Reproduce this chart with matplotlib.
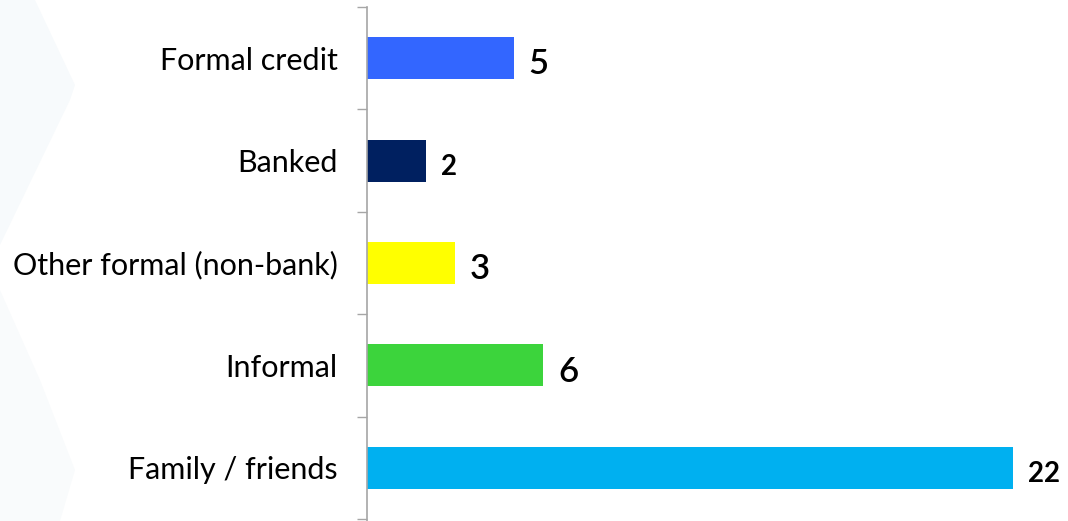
import matplotlib.pyplot as plt
from matplotlib.patches import Polygon

# funding sources, top to bottom
categories = ['Formal credit', 'Banked', 'Other formal (non-bank)', 'Informal', 'Family / friends']
values = [5, 2, 3, 6, 22]
bar_colors = ['#3366FF', '#002060', '#FFFF00', '#3CD43C', '#00B0F0']
# value label styling: (font size, weight)
label_styles = [(25, 'semibold'), (20, 'bold'), (25, 'semibold'), (25, 'semibold'), (20, 'bold')]

plt.rcParams['font.family'] = ['Lato', 'DejaVu Sans']

W, H = 1068, 521
fig = plt.figure(figsize=(W / 100, H / 100), dpi=100)
fig.patch.set_facecolor('white')

# faint background chevrons on the left
bg = fig.add_axes([0, 0, 1, 1], zorder=-1)
bg.set_xlim(0, W)
bg.set_ylim(H, 0)
bg.axis('off')
bg.add_patch(Polygon([(0, 0), (35, 0), (75, 85), (70, 100), (0, 245)],
                     closed=True, facecolor='#F7FAFC', edgecolor='none'))
bg.add_patch(Polygon([(0, 290), (40, 380), (75, 470), (60, 521), (0, 521)],
                     closed=True, facecolor='#F9FBFC', edgecolor='none'))

ax = fig.add_axes([367 / W, 0, 690 / W, 514 / H])
ax.patch.set_alpha(0)
y = list(range(len(categories)))
ax.barh(y, values, height=0.41, color=bar_colors, zorder=2)
ax.set_ylim(len(categories) - 0.5 + 0.02, -0.5)
ax.set_xlim(0, 23.5)

ax.set_yticks([i - 0.5 for i in range(len(categories) + 1)], minor=False)
ax.set_yticklabels([])
ax.set_yticks(y, minor=True)
ax.set_yticklabels(categories, minor=True, fontsize=22)
ax.tick_params(axis='y', which='major', length=7.2, width=1, color='#A6A6A6')
ax.tick_params(axis='y', which='minor', length=0, pad=21)
ax.set_xticks([])

for s in ['top', 'right', 'bottom']:
    ax.spines[s].set_visible(False)
ax.spines['left'].set_color('#A6A6A6')
ax.spines['left'].set_linewidth(1.2)

px = 23.5 / 690  # data units per pixel
for i, (v, (fs, fw)) in enumerate(zip(values, label_styles)):
    ax.text(v + 15 * px, i + 0.06, str(v), ha='left', va='center',
            fontsize=fs, fontweight=fw, color='black', clip_on=False)

fig.savefig('out.png', dpi=100)
